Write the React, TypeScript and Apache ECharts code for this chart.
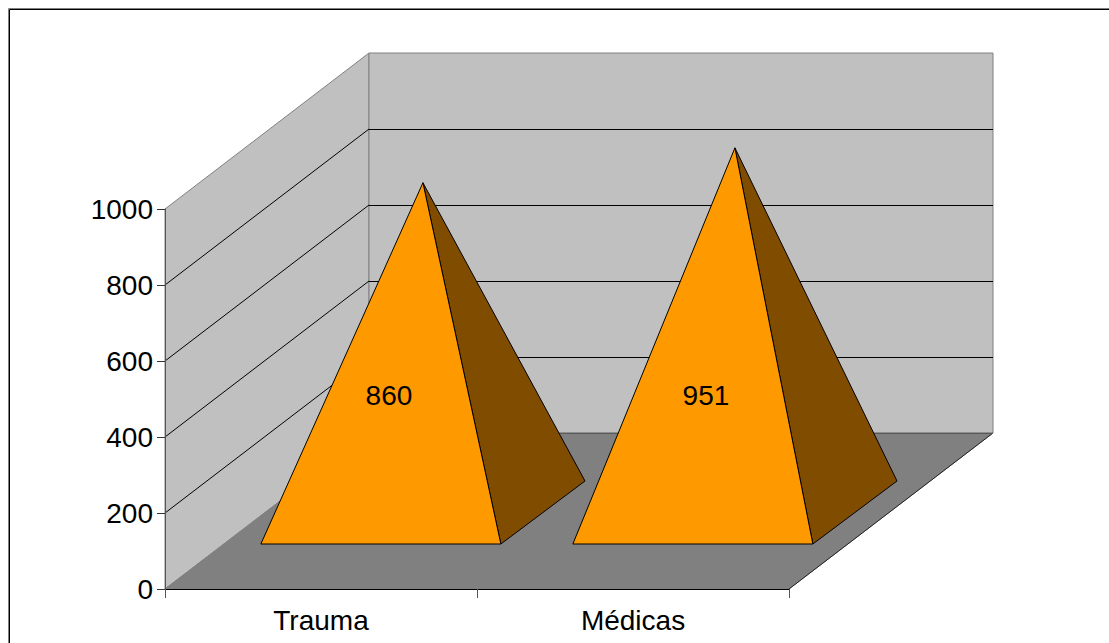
import React, { useEffect, useRef } from "react";
import * as echarts from "echarts";

const categories = ["Trauma", "Médicas"];
const values = [860, 951];
const yTicks = [0, 200, 400, 600, 800, 1000];
const labelDx = [-34, -29];
const FONT = "'Liberation Sans', Arial, sans-serif";
const FONT_SIZE = 28;
const DEPTH_X = 204;
const DEPTH_Y = -156;
const BASE_FRONT = 45 / 156;
const BASE_BACK = 108 / 156;
const BASE_BACK_X = 143 / 204;
const BAR_RATIO = 240 / 312;
const LIFT = 1.009;
const LABEL_Y = 395;

const poly = (points: number[][], fill: string, stroke: string, z2 = 0, lineWidth = 1) => ({
  type: "polygon",
  z2,
  shape: { points },
  style: { fill, stroke, lineWidth },
});
const seg = (a: number[], b: number[], stroke: string, z2 = 1) => ({
  type: "line",
  z2,
  shape: { x1: a[0], y1: a[1], x2: b[0], y2: b[1] },
  style: { stroke, lineWidth: 1 },
});

function renderWalls(params: any, api: any) {
  const cs = params.coordSys;
  const x0 = cs.x;
  const x1 = cs.x + cs.width;
  const y0 = api.coord([0, 0])[1];
  const yT = api.coord([0, yTicks[yTicks.length - 1]])[1];
  const children: any[] = [
    poly([[x0, y0], [x0 + DEPTH_X, y0 + DEPTH_Y], [x0 + DEPTH_X, yT + DEPTH_Y], [x0, yT]], "#c0c0c0", "#808080"),
    poly([[x0 + DEPTH_X, y0 + DEPTH_Y], [x1 + DEPTH_X, y0 + DEPTH_Y], [x1 + DEPTH_X, yT + DEPTH_Y], [x0 + DEPTH_X, yT + DEPTH_Y]], "#c0c0c0", "#808080"),
    poly([[x0, y0], [x1, y0], [x1 + DEPTH_X, y0 + DEPTH_Y], [x0 + DEPTH_X, y0 + DEPTH_Y]], "#808080", "#808080", 1),
    seg([x1, y0], [x1 + DEPTH_X, y0 + DEPTH_Y], "#222222", 2),
    seg([x0 + DEPTH_X, y0 + DEPTH_Y + 0.5], [x1 + DEPTH_X, y0 + DEPTH_Y + 0.5], "#5a5a5a", 2),
  ];
  yTicks.slice(1, -1).forEach((t) => {
    const y = api.coord([0, t])[1];
    children.push(seg([x0, y], [x0 + DEPTH_X, y + DEPTH_Y], "#000000", 1));
    children.push(seg([x0 + DEPTH_X, y + DEPTH_Y + 0.5], [x1 + DEPTH_X, y + DEPTH_Y + 0.5], "#000000", 1));
  });
  return { type: "group", children };
}

function renderPyramid(params: any, api: any) {
  const idx = api.value(0);
  const val = api.value(1);
  const base = api.coord([idx, 0]);
  const top = api.coord([idx, val]);
  const w = api.size([1, 0])[0] * BAR_RATIO;
  const fx = DEPTH_X * BASE_FRONT;
  const fy = DEPTH_Y * BASE_FRONT;
  const bx = DEPTH_X * BASE_BACK_X;
  const by = DEPTH_Y * BASE_BACK;
  const cx = base[0] + 1;
  const frontL = [cx - w / 2 + fx, base[1] + fy];
  const frontR = [cx + w / 2 + fx, base[1] + fy];
  const backR = [cx + w / 2 + bx, base[1] + by];
  const apex = [cx + (fx + bx) / 2, base[1] + (fy + by) / 2 - (base[1] - top[1]) * LIFT];
  return {
    type: "group",
    children: [
      poly([frontR, backR, apex], "#7f4c00", "#000000", 0),
      poly([frontL, frontR, apex], "#ff9900", "#000000", 1),
      {
        type: "text",
        z2: 3,
        style: {
          x: apex[0] + labelDx[params.dataIndex],
          y: LABEL_Y,
          text: String(val),
          fill: "#000000",
          font: `${FONT_SIZE}px ${FONT}`,
          align: "center",
          verticalAlign: "middle",
        },
      },
    ],
  };
}

export default function App() {
  const ref = useRef<HTMLDivElement>(null);
  useEffect(() => {
    const chart = echarts.init(ref.current!, null, { renderer: "svg" });
    chart.setOption({
      animation: false,
      backgroundColor: "#ffffff",
      textStyle: { fontFamily: FONT },
      grid: { left: 165, top: 209, width: 624, height: 380, containLabel: false },
      graphic: [
        { type: "rect", silent: true, shape: { x: 8.5, y: 8.5, width: 1200, height: 800 }, style: { fill: "none", stroke: "#808080", lineWidth: 1 } },
        { type: "rect", silent: true, shape: { x: 9.5, y: 9.5, width: 1200, height: 800 }, style: { fill: "none", stroke: "#000000", lineWidth: 1 } },
      ],
      xAxis: {
        type: "category",
        data: categories,
        z: 5,
        axisLine: { lineStyle: { color: "#000000", width: 1 } },
        axisTick: { show: true, length: 9, lineStyle: { color: "#555555" } },
        axisLabel: { color: "#000000", fontSize: FONT_SIZE, fontFamily: FONT, margin: 17 },
        splitLine: { show: false },
      },
      yAxis: {
        type: "value",
        min: 0,
        max: 1000,
        interval: 200,
        z: 5,
        axisLine: { show: true, lineStyle: { color: "#555555", width: 1 } },
        axisTick: { show: true, length: 8, lineStyle: { color: "#333333" } },
        axisLabel: { color: "#000000", fontSize: FONT_SIZE, fontFamily: FONT, margin: 12, formatter: (v: number) => String(v) },
        splitLine: { show: false },
      },
      series: [
        { type: "custom", z: 1, silent: true, renderItem: renderWalls, data: [[0, 0]], clip: false },
        {
          type: "custom",
          z: 2,
          silent: true,
          renderItem: renderPyramid,
          encode: { x: 0, y: 1 },
          data: values.map((v, i) => [i, v]),
          clip: false,
        },
      ],
    });
    return () => chart.dispose();
  }, []);
  return <div ref={ref} style={{ position: "absolute", left: 0, top: 0, width: 1109, height: 643 }} />;
}
